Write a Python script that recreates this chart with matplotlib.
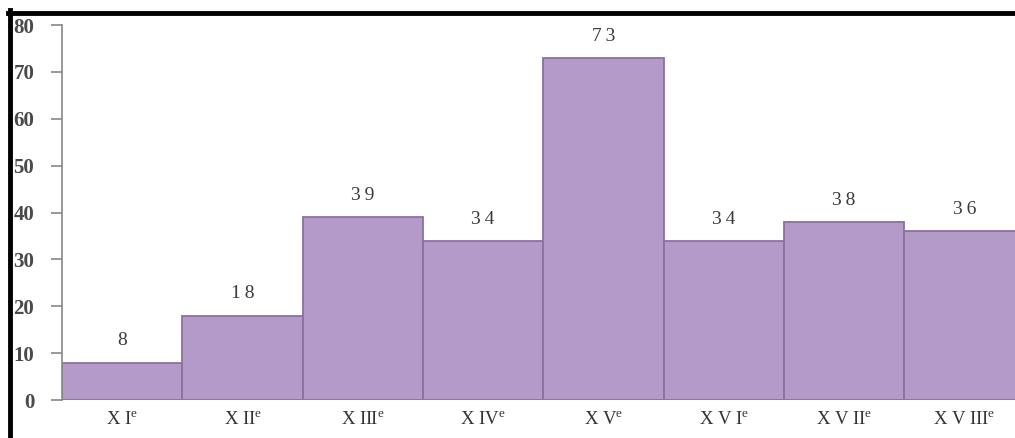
import matplotlib.pyplot as plt
from matplotlib.lines import Line2D

plt.rcParams['font.family'] = ['Liberation Serif', 'DejaVu Serif']
plt.rcParams['mathtext.fontset'] = 'custom'
plt.rcParams['mathtext.rm'] = 'Liberation Serif'
plt.rcParams['mathtext.it'] = 'Liberation Serif'

centuries = ['X I', 'X II', 'X III', 'X IV', 'X V', 'X V I', 'X V II', 'X V III']
counts = [8, 18, 39, 34, 73, 34, 38, 36]
yticks = [0, 10, 20, 30, 40, 50, 60, 70, 80]

fig = plt.figure(figsize=(10.15, 4.38), dpi=100)
ax = fig.add_axes([62 / 1015, 38 / 438, 953 / 1015, 375 / 438])

pos = list(range(len(counts)))
ax.bar(pos, counts, width=1.0, align='edge', color='#b49ac8',
       edgecolor='#8a719f', linewidth=1.3, zorder=2)

for x, v in zip(pos, counts):
    ax.text(x + 0.5, v + 2.8, '\u2009'.join(str(v)), ha='center', va='bottom',
            fontsize=14, color='#3a3a3a')

ax.set_xlim(0, 7.92)
ax.set_ylim(0, 80)
ax.set_yticks(yticks)
ax.set_yticklabels([str(t) for t in yticks], fontsize=15, color='#4a4a4a',
                   fontweight='semibold')
ax.set_xticks([p + 0.5 for p in pos])
ax.set_xticklabels([c + r'$^{\mathrm{e}}$' for c in centuries], fontsize=13.5,
                   color='#333333')
ax.tick_params(axis='y', length=8, width=1.2, color='#888888', pad=12)
ax.tick_params(axis='x', length=0, pad=8)

for s in ['top', 'right', 'bottom']:
    ax.spines[s].set_visible(False)
ax.spines['left'].set_color('#888888')
ax.spines['left'].set_linewidth(1.2)

# black frame left and top
fig.add_artist(Line2D([10 / 1015, 10 / 1015], [0, 1 - 10 / 438],
                      transform=fig.transFigure, color='black', linewidth=3.5))
fig.add_artist(Line2D([8 / 1015, 1], [1 - 12.5 / 438, 1 - 12.5 / 438],
                      transform=fig.transFigure, color='black', linewidth=3.5))

fig.savefig('out.png', dpi=100)
